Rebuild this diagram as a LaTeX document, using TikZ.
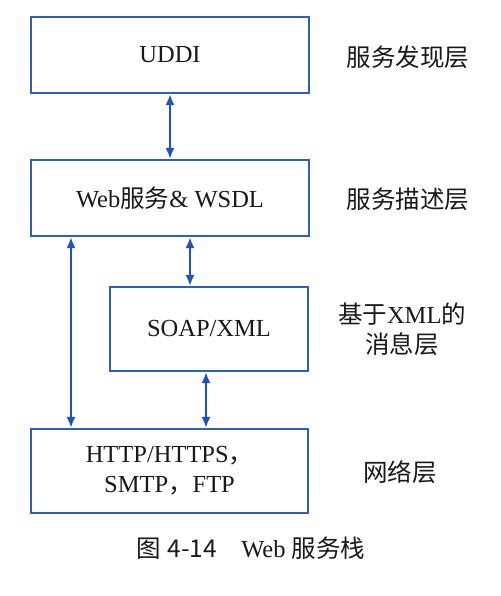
\documentclass[tikz,border=0pt]{standalone}
\usepackage{fontspec}
\setmainfont{Liberation Serif}
\newfontfamily\cjk{Noto Sans CJK SC}
\usetikzlibrary{arrows.meta}
\definecolor{boxblue}{RGB}{45,95,190}
\definecolor{arrblue}{RGB}{30,80,200}
\definecolor{txt}{RGB}{25,25,25}
\newcommand{\zh}[1]{{\cjk #1}}
\begin{document}
\begin{tikzpicture}[x=1pt,y=-1pt,
  every node/.style={text=txt,font=\fontsize{24.5}{30}\selectfont},
  layerbox/.style={draw=boxblue,line width=2.2pt,minimum height=76pt,inner sep=0pt,align=center},
  arr/.style={draw=arrblue,line width=2pt,{Latex[length=11pt,width=9pt]}-{Latex[length=11pt,width=9pt]}},
  lab/.style={align=center}]
\useasboundingbox (0,0) rectangle (500,596);
\fill[white] (0,0) rectangle (500,596);
\node[layerbox,minimum width=278pt] (uddi) at (170,55) {UDDI};
\node[layerbox,minimum width=278pt] (web) at (170,198) {Web\zh{服务}\&\ WSDL};
\node[layerbox,minimum width=198pt,minimum height=84pt] (soap) at (209,329) {SOAP/XML};
\node[layerbox,minimum width=277pt,minimum height=84pt] (http) at (169.5,471) {HTTP/HTTPS\zh{，}\\SMTP\zh{，}FTP};
\node[lab] (l1) at (408,57) {\zh{服务发现层}};
\node[lab] (l2) at (408,199) {\zh{服务描述层}};
\node[lab] (l3) at (402,329) {\zh{基于}XML\zh{的}\\\zh{消息层}};
\node[lab] (l4) at (400,472) {\zh{网络层}};
\node (cap) at (251,548) {\zh{图} {\cjk 4-14}\hspace{1em}Web \zh{服务栈}};
\coordinate (xa) at (190,0);
\coordinate (xb) at (71,0);
\coordinate (xc) at (206,0);
\draw[arr] (uddi.south) -- (web.north);
\draw[arr] (web.south -| xa) -- (soap.north -| xa);
\draw[arr] (web.south -| xb) -- (http.north -| xb);
\draw[arr] (soap.south -| xc) -- (http.north -| xc);
\end{tikzpicture}
\end{document}
